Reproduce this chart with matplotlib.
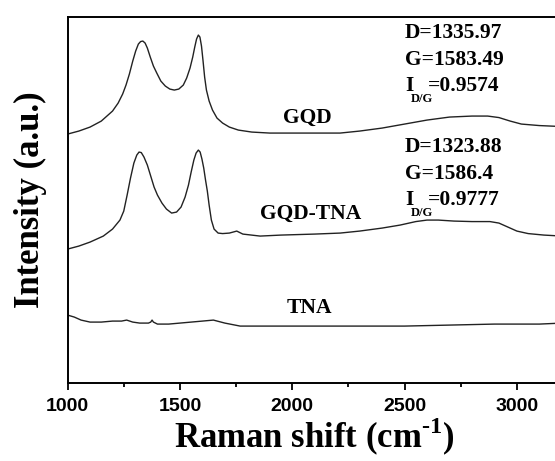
import matplotlib.pyplot as plt
from matplotlib.ticker import MultipleLocator

# Raman spectra (wavenumber in cm^-1, intensity in arbitrary units, stacked)
gqd_x = [1000, 1050, 1100, 1150, 1200, 1225, 1245, 1260, 1275, 1290, 1303, 1315,
         1325, 1335, 1345, 1355, 1368, 1382, 1397, 1415, 1435, 1455, 1475, 1495,
         1515, 1530, 1545, 1557, 1566, 1574, 1582, 1589, 1596, 1603, 1610, 1618,
         1630, 1645, 1665, 1690, 1720, 1760, 1820, 1900, 2000, 2100, 2213, 2300,
         2400, 2500, 2600, 2700, 2800, 2870, 2920, 2970, 3020, 3100, 3200]
gqd_y = [249, 252, 256, 262, 272, 280, 289, 298, 309, 322, 332, 339,
         341.5, 342, 340, 335, 326, 317, 310, 302, 297, 294, 293, 294,
         298, 305, 315, 326, 336, 344, 348, 346, 337, 322, 306, 293,
         282, 273, 265, 260, 256, 253, 251, 250, 250, 250, 250, 252,
         255, 259, 263, 266, 267, 267, 265.5, 262, 259, 257.5, 256.5]

gqd_tna_x = [1000, 1050, 1100, 1159, 1200, 1233, 1250, 1265, 1280, 1295, 1308, 1318,
             1328, 1340, 1355, 1370, 1385, 1400, 1420, 1440, 1463, 1485, 1505, 1523,
             1538, 1550, 1562, 1572, 1582, 1590, 1598, 1606, 1614, 1622, 1630, 1640,
             1652, 1670, 1690, 1720, 1753, 1780, 1857, 1950, 2100, 2213, 2300, 2400,
             2480, 2550, 2600, 2650, 2720, 2800, 2880, 2920, 2960, 3000, 3050, 3120,
             3200]
gqd_tna_y = [134, 137, 141, 147, 154, 163, 172, 188, 205, 220, 228, 231,
             230.5, 226, 218, 207, 196, 188, 180, 174, 170, 171, 176, 186,
             198, 211, 223, 230, 233, 231, 224, 215, 203, 192, 178, 163,
             154, 150, 149.5, 150, 152, 149, 147, 148, 149, 150, 152, 155,
             158, 161.5, 163, 163, 162, 161.5, 161.5, 160, 156, 152, 149.5, 148,
             147]

tna_x = [1000, 1030, 1060, 1100, 1150, 1200, 1240, 1263, 1290, 1321, 1360, 1370,
         1376, 1382, 1400, 1450, 1500, 1550, 1600, 1649, 1700, 1768, 1850, 2000,
         2150, 2302, 2500, 2700, 2900, 3100, 3200]
tna_y = [68, 66, 63, 61, 61, 62, 62, 63, 61, 60, 60, 61,
         63, 61, 59, 59, 60, 61, 62, 63, 60, 57, 57, 57,
         57, 57, 57, 58, 59, 59, 60]

sample_names = ["GQD", "GQD-TNA", "TNA"]
name_pos = [(2068, 265), (2084, 169), (2077, 75)]
gqd_peaks = ["D=1335.97", "G=1583.49", "=0.9574"]
gqd_tna_peaks = ["D=1323.88", "G=1586.4", "=0.9777"]

serif = "Liberation Serif"
sans = "Liberation Sans"
plt.rcParams["mathtext.fontset"] = "custom"
plt.rcParams["mathtext.rm"] = "Liberation Serif:bold"

fig = plt.figure(figsize=(5.55, 4.61), dpi=100)
ax = fig.add_axes([0.1218, 0.169, 0.8905, 0.794])

for xs, ys in [(gqd_x, gqd_y), (gqd_tna_x, gqd_tna_y), (tna_x, tna_y)]:
    ax.plot(xs, ys, color="#222222", lw=1.0)

ax.set_xlim(1000, 3200)
ax.set_ylim(0, 366)

txt = dict(fontweight="bold", family=serif)
for name, (x, y) in zip(sample_names, name_pos):
    ax.text(x, y, name, ha="center", va="center", fontsize=15.5, **txt)


def peak_block(top, lines):
    # D and G positions, then I with a small D/G subscript hanging below
    for i, s in enumerate(lines[:2]):
        ax.text(2502, top - i * 26.5, s, ha="left", va="center",
                fontsize=15.5, **txt)
    y = top - 2 * 26.5
    ax.text(2502, y, "I", ha="left", va="center", fontsize=15.5, **txt)
    ax.annotate("D/G", (2502, y), xytext=(4.5, -9), textcoords="offset points",
                ha="left", va="center", fontsize=9, **txt)
    ax.annotate(lines[2], (2502, y), xytext=(16.5, 0), textcoords="offset points",
                ha="left", va="center", fontsize=15.5, **txt)


peak_block(350, gqd_peaks)
peak_block(236, gqd_tna_peaks)

ax.xaxis.set_major_locator(MultipleLocator(500))
ax.xaxis.set_minor_locator(MultipleLocator(250))
ax.tick_params(axis="x", which="major", direction="out", length=5, width=1.3,
               labelsize=14, pad=6)
ax.tick_params(axis="x", which="minor", direction="out", length=3, width=1.3)
ax.set_yticks([])
for lbl in ax.get_xticklabels():
    lbl.set_fontfamily(sans)
    lbl.set_fontweight("bold")
for sp in ax.spines.values():
    sp.set_linewidth(1.4)

ax.set_xlabel("Raman shift (cm$^{\\mathregular{\u2010}1}$)", fontsize=25,
              labelpad=0, **txt)
ax.set_ylabel("Intensity (a.u.)", fontsize=25, labelpad=15, **txt)

fig.savefig("out.png", dpi=100)
